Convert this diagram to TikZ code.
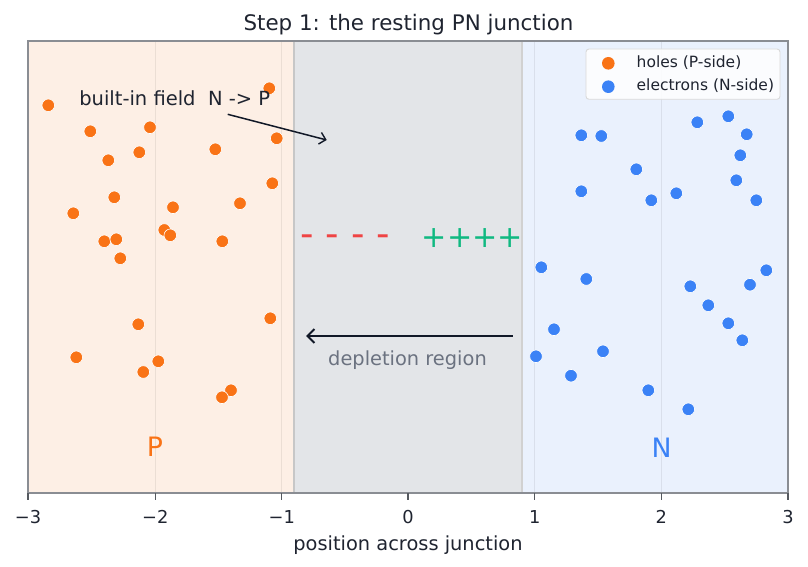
\documentclass[tikz,border=0pt]{standalone}
\usepackage{fontspec}
\setmainfont{DejaVu Sans}
\usetikzlibrary{arrows.meta}
\definecolor{porange}{HTML}{F97316}
\definecolor{pblue}{HTML}{3B82F6}
\definecolor{pfill}{HTML}{FDEFE5}
\definecolor{dfill}{HTML}{E3E5E8}
\definecolor{nfill}{HTML}{EAF1FD}
\definecolor{framec}{HTML}{8A8D93}
\definecolor{tickc}{HTML}{55595F}
\definecolor{inkc}{HTML}{1F2430}
\definecolor{navy}{HTML}{111827}
\definecolor{greyt}{HTML}{6B7280}
\definecolor{redm}{HTML}{EF4444}
\definecolor{greenp}{HTML}{10B981}
\tikzset{
  txt/.style={inner sep=0pt, outer sep=0pt, anchor=base},
  hole/.style={circle, fill=porange, draw=white, line width=0.6pt, minimum size=12.6pt, inner sep=0pt},
  elec/.style={circle, fill=pblue, draw=white, line width=0.6pt, minimum size=12.6pt, inner sep=0pt},
  gridline/.style={draw=black, opacity=0.07, line width=0.9pt},
  edgeline/.style={draw=black!22, line width=1.1pt},
  ticksty/.style={draw=tickc, line width=1.1pt},
  arr/.style={draw=navy, -{Straight Barb[length=6pt,width=12pt,line width=1.4pt]}},
}
\begin{document}
\begin{tikzpicture}[x=1pt,y=-1pt]
\useasboundingbox (0,0) rectangle (808,567);
% regions
\fill[pfill] (28,41) rectangle (294,493);
\fill[dfill] (294,41) rectangle (522,493);
\fill[nfill] (522,41) rectangle (788,493);
\foreach \gx in {155.3,281.7,534.7,661.3} \draw[gridline] (\gx,41) -- (\gx,493);
\draw[edgeline] (294,41) -- (294,493);
\draw[edgeline, draw=black!18] (522,41) -- (522,493);
% frame
\draw[framec, line width=1.4pt] (28,41) rectangle (788,493);
% ticks
\foreach \v/\l [count=\k] in {28/−3,155.3/−2,281.7/−1,408/0,534.7/1,661.3/2,788/3}{
  \draw[ticksty] (\v,493) -- (\v,500);
  \node[txt, text=inkc, font=\fontsize{17.8}{20}\selectfont] (tick\k) at (\v,523.3) {\l};
}
\node[txt, text=inkc, font=\fontsize{19.4}{22}\selectfont] (xlabel) at (408,550) {position across junction};
\node[txt, text=inkc, font=\fontsize{21.4}{24}\selectfont] (title) at (408.5,30.7) {Step 1: the resting PN junction};
% holes
\foreach \px/\py [count=\i] in {48.3/105.3,269.3/88.3,90.3/131.3,150/127.3,276.7/138.3,139.3/152.3,215.3/149.3,108.3/160.3,272.3/183.3,114.3/197.3,240/203.3,73.3/213.3,173/207.3,164.3/230,170.3/235.3,104.3/241.3,116.3/239.3,222.3/241.3,120.3/258.3,270.3/318.3,138.3/324.3,76.3/357.3,158.3/361.3,143.3/372,231/390.3,222/397.3}
  \node[hole] (h\i) at (\px,\py) {};
% electrons
\foreach \px/\py [count=\i] in {581.3/135.3,601.3/136,697.3/122.3,728.3/116.3,746.7/134.3,740.3/155.3,636.3/169.3,736.3/180.3,581.3/191.3,676.3/193.3,651.3/200.3,756.3/200.3,541.3/267.3,766.3/270.3,586.3/279,690.3/286.3,750/284.7,708.3/305.3,728.3/323.3,742.3/340.3,554/329.3,536/356.3,603/351.3,571/375.7,648.3/390.3,688.3/409.3}
  \node[elec] (e\i) at (\px,\py) {};
% charges
\node[txt, text=redm, font=\fontsize{37.3}{40}\selectfont] (neg) at (345.3,246) {- - - -};
\node[txt, text=greenp, font=\fontsize{30.2}{34}\selectfont] (pos) at (472.3,247.5) {++++};
% built-in field annotation
\node[txt, anchor=base west, text=inkc, font=\fontsize{19.5}{22}\selectfont] (field) at (79.3,106) {built-in field\ \ N -> P};
\coordinate (fs) at (227.7,114.3);
\coordinate (fe) at (326.7,140);
\draw[arr, line width=1.5pt] (fs) -- (fe);
% depletion arrow
\coordinate (ds) at (512.7,336);
\coordinate (de) at (306,336);
\draw[arr, line width=2.2pt, -{Straight Barb[length=7pt,width=14pt,line width=2pt]}] (ds) -- (de);
\node[txt, text=greyt, font=\fontsize{19.4}{22}\selectfont] (dep) at (407.5,365) {depletion region};
% P and N labels
\node[txt, text=porange, font=\fontsize{26.7}{30}\selectfont] (Plab) at (155,456.7) {P};
\node[txt, text=pblue, font=\fontsize{26.7}{30}\selectfont] (Nlab) at (661.7,457.5) {N};
% legend
\draw[rounded corners=3pt, fill=white, fill opacity=0.85, draw=black!15, line width=0.9pt] (586,49) rectangle (780,99.3);
\node[hole, draw=none] (lh) at (608.3,63.3) {};
\node[elec, draw=none] (le) at (608.3,86.7) {};
\node[txt, anchor=base west, text=inkc, font=\fontsize{15.5}{18}\selectfont] (lht) at (636.7,67.7) {holes (P-side)};
\node[txt, anchor=base west, text=inkc, font=\fontsize{15.5}{18}\selectfont] (let) at (636.7,90.7) {electrons (N-side)};
\end{tikzpicture}
\end{document}
